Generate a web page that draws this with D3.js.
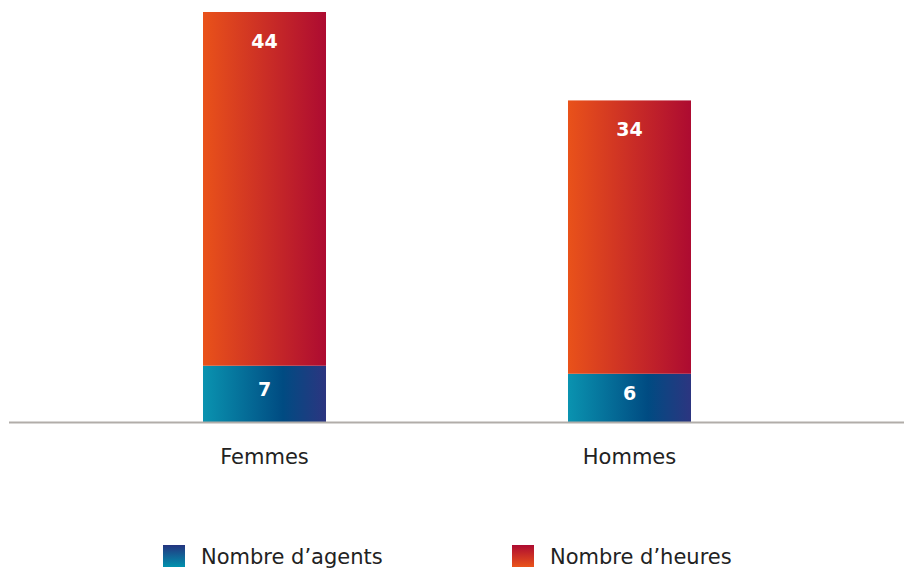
<!DOCTYPE html>
<html>
<head>
<meta charset="utf-8">
<script src="https://cdn.jsdelivr.net/npm/d3@7/dist/d3.min.js"></script>
<style>
  html, body { margin: 0; padding: 0; background: #fff; }
  svg { display: block; }
  text { font-family: "DejaVu Sans", "Noto Sans", sans-serif; }
</style>
</head>
<body>
<div id="chart"></div>
<script>
// Nombre d'agents et nombre d'heures, par sexe
const categories = ["Femmes", "Hommes"];
const seriesNames = ["Nombre d’agents", "Nombre d’heures"];
const agents = [7, 6];
const heures = [44, 34];

const W = 904, H = 569;
const baseY = 422;

const svg = d3.select("#chart").append("svg")
  .attr("width", W).attr("height", H);

const defs = svg.append("defs");
function grad(id, stops, vertical) {
  const g = defs.append("linearGradient").attr("id", id)
    .attr("x1", "0").attr("y1", vertical ? "1" : "0")
    .attr("x2", vertical ? "0" : "1").attr("y2", "0");
  stops.forEach(([o, c]) => g.append("stop").attr("offset", o).attr("stop-color", c));
}
grad("gBlue", [[0, "#0a93b0"], [0.65, "#004b82"], [1, "#2c3580"]], false);
grad("gRed", [[0, "#e9521a"], [1, "#ad0b31"]], false);
grad("gBlueLeg", [[0, "#0092ae"], [1, "#24347f"]], true);
grad("gRedLeg", [[0, "#ea541a"], [1, "#ad0b31"]], true);

const x = d3.scaleBand().domain(categories).range([20.5, 873.5]).paddingInner(0.663).paddingOuter(0.5);
const y = d3.scaleLinear().domain([0, 51]).range([baseY, 12]);

const stacked = categories.map((c, i) => ({ cat: c, a: agents[i], h: heures[i] }));

// Segments bleus (agents)
svg.selectAll(".bA").data(stacked).enter().append("rect")
  .attr("x", d => x(d.cat)).attr("width", x.bandwidth())
  .attr("y", d => y(d.a)).attr("height", d => y(0) - y(d.a))
  .attr("fill", "url(#gBlue)");

// Segments rouges (heures), empilés au-dessus
svg.selectAll(".bH").data(stacked).enter().append("rect")
  .attr("x", d => x(d.cat)).attr("width", x.bandwidth())
  .attr("y", d => y(d.a + d.h)).attr("height", d => y(d.a) - y(d.a + d.h))
  .attr("fill", "url(#gRed)");

// Valeurs
svg.selectAll(".lA").data(stacked).enter().append("text")
  .attr("x", d => x(d.cat) + x.bandwidth() / 2)
  .attr("y", d => (y(d.a) + y(0)) / 2 + 2)
  .attr("text-anchor", "middle").attr("fill", "#fff")
  .attr("font-weight", 700).attr("font-size", 19)
  .text(d => d.a);

svg.selectAll(".lH").data(stacked).enter().append("text")
  .attr("x", d => x(d.cat) + x.bandwidth() / 2)
  .attr("y", d => y(d.a + d.h) + 36)
  .attr("text-anchor", "middle").attr("fill", "#fff")
  .attr("font-weight", 700).attr("font-size", 19)
  .text(d => d.h);

// Ligne de base
svg.append("line").attr("x1", 9).attr("x2", W).attr("y1", baseY + 0.5).attr("y2", baseY + 0.5)
  .attr("stroke", "#b1ada9").attr("stroke-width", 2);

// Axe des catégories
const axis = svg.append("g").attr("transform", `translate(0,${baseY})`)
  .call(d3.axisBottom(x).tickSize(0).tickPadding(27));
axis.select(".domain").remove();
axis.selectAll("text").attr("font-size", 21).attr("fill", "#222")
  .attr("font-family", "'DejaVu Sans', 'Noto Sans', sans-serif");

// Légende
const legX = [163, 512];
const legFill = ["url(#gBlueLeg)", "url(#gRedLeg)"];
const leg = svg.selectAll(".leg").data(seriesNames).enter().append("g")
  .attr("transform", (d, i) => `translate(${legX[i]},545)`);
leg.append("rect").attr("width", 22).attr("height", 22).attr("fill", (d, i) => legFill[i]);
leg.append("text").attr("x", 38).attr("y", 19).attr("font-size", 21).attr("fill", "#222").text(d => d);
</script>
</body>
</html>
